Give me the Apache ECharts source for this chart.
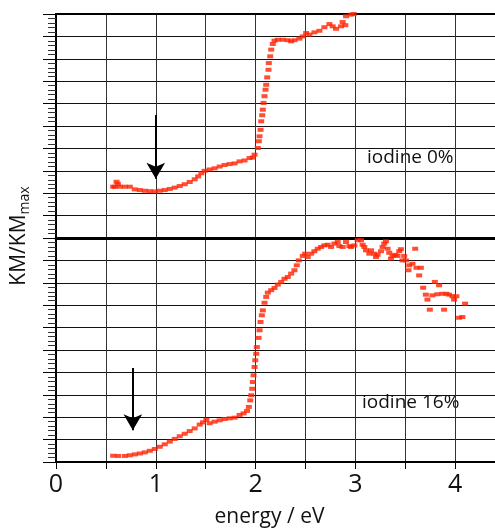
<!DOCTYPE html>
<html>
<head>
<meta charset="utf-8">
<script src="https://cdn.jsdelivr.net/npm/echarts@6/dist/echarts.min.js"></script>
<style>html,body{margin:0;padding:0;background:#fff}#c{width:495px;height:531px}</style>
</head>
<body>
<div id="c"></div>
<script>
// ---- data (energy in eV, KM/KM_max normalised per panel) ----
var xTickLabels = ['0', '1', '2', '3', '4'];
var panelLabels = ['iodine 0%', 'iodine 16%'];
var xAxisName = 'energy / eV';

var iodine0Energy = [0.573,0.59,0.607,0.62,0.64,0.69,0.74,0.79,0.84,0.89,0.94,0.99,1.04,1.09,1.14,1.19,1.24,1.29,1.34,1.39,1.425,1.457,1.49,1.54,1.59,1.64,1.69,1.74,1.79,1.84,1.89,1.94,1.973,1.99,2.023,2.033,2.04,2.05,2.057,2.067,2.073,2.08,2.09,2.10,2.107,2.117,2.13,2.133,2.147,2.157,2.173,2.19,2.223,2.273,2.323,2.357,2.39,2.44,2.473,2.507,2.54,2.59,2.64,2.69,2.74,2.773,2.807,2.857,2.90,2.873,2.907,2.957,2.983];
var iodine0KM = [0.229,0.229,0.251,0.241,0.229,0.229,0.229,0.217,0.214,0.211,0.209,0.208,0.211,0.214,0.219,0.225,0.232,0.240,0.250,0.262,0.275,0.289,0.300,0.306,0.311,0.319,0.326,0.330,0.333,0.342,0.346,0.357,0.359,0.372,0.402,0.432,0.454,0.483,0.521,0.548,0.573,0.603,0.633,0.662,0.684,0.717,0.751,0.781,0.811,0.841,0.866,0.881,0.885,0.885,0.883,0.878,0.883,0.890,0.900,0.915,0.908,0.918,0.925,0.941,0.955,0.945,0.934,0.945,0.950,0.964,0.990,0.997,1.0];

var iodine16Energy = [0.573,0.623,0.69,0.74,0.79,0.84,0.89,0.94,0.99,1.04,1.09,1.14,1.19,1.24,1.29,1.34,1.39,1.44,1.473,1.507,1.54,1.59,1.64,1.69,1.74,1.79,1.84,1.88,1.915,1.933,1.947,1.957,1.967,1.973,1.98,1.99,1.997,2.007,2.013,2.03,2.04,2.05,2.063,2.073,2.09,2.107,2.123,2.157,2.19,2.223,2.257,2.29,2.323,2.357,2.39,2.413,2.433,2.473,2.497,2.523,2.557,2.59,2.623,2.657,2.69,2.723,2.757,2.79,2.823,2.84,2.873,2.907,2.94,2.957,2.99,3.023,3.057,3.073,3.09,3.107,3.14,3.157,3.19,3.207,3.223,3.257,3.273,3.29,3.307,3.323,3.34,3.357,3.373,3.40,3.423,3.44,3.457,3.473,3.49,3.507,3.533,3.54,3.573,3.60,3.613,3.64,3.657,3.68,3.707,3.723,3.747,3.773,3.797,3.823,3.84,3.873,3.89,3.913,3.94,3.973,3.99,4.013,4.04,4.073,4.10];
var iodine16KM = [0.028,0.027,0.027,0.030,0.034,0.038,0.043,0.050,0.058,0.068,0.079,0.091,0.103,0.115,0.126,0.138,0.150,0.167,0.177,0.188,0.173,0.180,0.186,0.192,0.195,0.198,0.210,0.217,0.228,0.246,0.275,0.298,0.327,0.357,0.387,0.424,0.454,0.483,0.513,0.554,0.588,0.625,0.655,0.677,0.711,0.737,0.756,0.767,0.777,0.792,0.804,0.818,0.826,0.841,0.856,0.878,0.900,0.920,0.930,0.915,0.930,0.941,0.952,0.960,0.967,0.970,0.960,0.975,0.982,0.964,0.960,0.982,0.964,0.960,0.967,0.990,0.990,0.970,0.960,0.945,0.930,0.945,0.930,0.915,0.925,0.941,0.960,0.975,0.985,0.952,0.934,0.908,0.920,0.925,0.920,0.941,0.950,0.900,0.920,0.900,0.856,0.878,0.885,0.952,0.867,0.833,0.867,0.778,0.747,0.725,0.680,0.744,0.804,0.749,0.789,0.751,0.680,0.751,0.747,0.740,0.725,0.740,0.644,0.647,0.707];

// arrows: [energy, start KM, tip KM]
var arrowIodine0 = [1.0, 0.549, 0.265];
var arrowIodine16 = [0.77, 0.42, 0.142];

function pairs(xs, ys) { return xs.map(function (x, i) { return [x, ys[i]]; }); }

var RED = '#ff2200';
var FONT = 'Open Sans';
var chart = echarts.init(document.getElementById('c'), null, { renderer: 'canvas' });

function yAx(gi) {
  return {
    gridIndex: gi, min: 0, max: 1, interval: 0.1,
    axisLine: { show: true, lineStyle: { color: '#000', width: 2 } },
    axisTick: { show: true, inside: false, length: 13, lineStyle: { color: '#000', width: 1 } },
    minorTick: { show: true, splitNumber: 5, length: 8, lineStyle: { color: '#333', width: 1 } },
    axisLabel: { show: false },
    splitLine: { show: true, lineStyle: { color: '#111', width: 1 } }
  };
}

var xSplit = { show: true, lineStyle: { color: '#333', width: 1 } };

var option = {
  animation: false,
  backgroundColor: '#fff',
  grid: [
    { left: 56, top: 14, width: 440, height: 224 },
    { left: 56, top: 238, width: 440, height: 224 }
  ],
  xAxis: [
    { gridIndex: 0, position: 'top', min: 0, max: 4.4, interval: 0.5,
      axisLine: { show: true, onZero: false, lineStyle: { color: '#000', width: 2 } },
      axisTick: { show: false }, axisLabel: { show: false }, splitLine: xSplit },
    { gridIndex: 1, position: 'bottom', min: 0, max: 4.4, interval: 0.5,
      name: xAxisName, nameLocation: 'middle', nameGap: 45,
      nameTextStyle: { fontFamily: FONT, fontSize: 21, color: '#111', padding: [0, 12, 0, 0] },
      axisLine: { show: true, onZero: false, lineStyle: { color: '#000', width: 2 } },
      axisTick: { show: true, inside: false, length: 7, lineStyle: { color: '#000', width: 1 } },
      axisLabel: { show: true, margin: 10, fontFamily: FONT, fontSize: 25, color: '#111', showMaxLabel: false,
        formatter: function (v) { var i = Math.round(v); return Math.abs(v - i) < 1e-6 && xTickLabels[i] !== undefined ? xTickLabels[i] : ''; } },
      splitLine: xSplit },
    { gridIndex: 1, position: 'top', min: 0, max: 4.4, interval: 0.5,
      axisLine: { show: true, onZero: false, lineStyle: { color: '#000', width: 3 } },
      axisTick: { show: false }, axisLabel: { show: false }, splitLine: { show: false } }
  ],
  yAxis: [yAx(0), yAx(1)],
  series: [
    { type: 'scatter', xAxisIndex: 0, yAxisIndex: 0, data: pairs(iodine0Energy, iodine0KM),
      symbol: 'rect', symbolSize: [6, 4], itemStyle: { color: RED }, silent: true,
      markLine: { silent: true, symbol: ['none', 'arrow'], symbolSize: [14, 16], label: { show: false },
        lineStyle: { color: '#000', width: 2, type: 'solid' },
        data: [[{ coord: [arrowIodine0[0], arrowIodine0[1]] }, { coord: [arrowIodine0[0], arrowIodine0[2]] }]] } },
    { type: 'scatter', xAxisIndex: 1, yAxisIndex: 1, data: pairs(iodine16Energy, iodine16KM),
      symbol: 'rect', symbolSize: [6, 4], itemStyle: { color: RED }, silent: true,
      markLine: { silent: true, symbol: ['none', 'arrow'], symbolSize: [14, 16], label: { show: false },
        lineStyle: { color: '#000', width: 2, type: 'solid' },
        data: [[{ coord: [arrowIodine16[0], arrowIodine16[1]] }, { coord: [arrowIodine16[0], arrowIodine16[2]] }]] } }
  ],
  graphic: [
    { type: 'text', left: 367, top: 148, style: { text: panelLabels[0], fontFamily: FONT, fontSize: 19, fill: '#111' } },
    { type: 'text', left: 362, top: 393, style: { text: panelLabels[1], fontFamily: FONT, fontSize: 19, fill: '#111' } },
    { type: 'text', x: 19, y: 236, rotation: Math.PI / 2,
      style: { text: '{a|KM/KM}{b|max}', align: 'center', verticalAlign: 'middle', fill: '#111',
        rich: { a: { fontFamily: FONT, fontSize: 21, lineHeight: 26, fill: '#111' },
                b: { fontFamily: FONT, fontSize: 14, verticalAlign: 'bottom', fill: '#111' } } } }
  ]
};
chart.setOption(option);
</script>
</body>
</html>
